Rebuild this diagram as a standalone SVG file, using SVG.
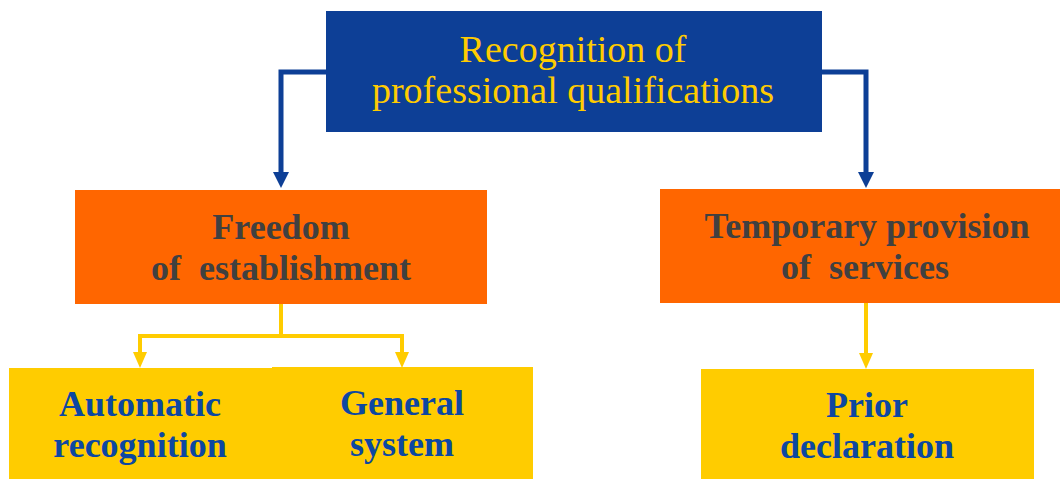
<svg xmlns="http://www.w3.org/2000/svg" width="1060" height="479" viewBox="0 0 1060 479">
<defs>
<style>
.t{font-family:"Liberation Serif","Times New Roman",serif;text-anchor:middle}
.top{fill:#FFCC00;font-size:38px}
.mid{fill:#404040;font-size:36px;font-weight:bold}
.low{fill:#0D47A1;font-size:36px;font-weight:bold}
.blue{stroke:#0D3F96;stroke-width:5;fill:none}
.yel{stroke:#FFCC00;stroke-width:4;fill:none}
</style>
</defs>
<rect width="1060" height="479" fill="#FFFFFF"/>
<g id="connectors">
<path class="blue" d="M326,72 H281 V172"/>
<path d="M273,172 L289,172 L281,188 Z" fill="#0D3F96"/>
<path class="blue" d="M822,72 H866 V172"/>
<path d="M858,172 L874,172 L866,188 Z" fill="#0D3F96"/>
<path class="yel" d="M281,304 V336 H140 V353"/>
<path d="M133,352 L147,352 L140,368 Z" fill="#FFCC00"/>
<path class="yel" d="M281,336 H402 V353"/>
<path d="M395,352 L409,352 L402,368 Z" fill="#FFCC00"/>
<path class="yel" d="M866,303 V354"/>
<path d="M859,353 L873,353 L866,369 Z" fill="#FFCC00"/>
</g>
<g id="n-root">
<rect x="326" y="11" width="496" height="121" fill="#0D3F96"/>
<text class="t top" x="573" y="62">Recognition of</text>
<text class="t top" x="573" y="103">professional qualifications</text>
</g>
<g id="n-freedom">
<rect x="75" y="190" width="412" height="114" fill="#FF6600"/>
<text class="t mid" x="281" y="239">Freedom</text>
<text class="t mid" x="281" y="280" xml:space="preserve">of  establishment</text>
</g>
<g id="n-temporary">
<rect x="660" y="189" width="400" height="114" fill="#FF6600"/>
<text class="t mid" x="867" y="238">Temporary provision</text>
<text class="t mid" x="781" y="279" style="text-anchor:start" xml:space="preserve">of  services</text>
</g>
<g id="n-automatic">
<rect x="9" y="368" width="264" height="111" fill="#FFCC00"/>
<text class="t low" x="140" y="416">Automatic</text>
<text class="t low" x="140" y="457">recognition</text>
</g>
<g id="n-general">
<rect x="272" y="367" width="261" height="112" fill="#FFCC00"/>
<text class="t low" x="402" y="415">General</text>
<text class="t low" x="402" y="456">system</text>
</g>
<g id="n-prior">
<rect x="701" y="369" width="333" height="110" fill="#FFCC00"/>
<text class="t low" x="867" y="417">Prior</text>
<text class="t low" x="867" y="458">declaration</text>
</g>
</svg>
